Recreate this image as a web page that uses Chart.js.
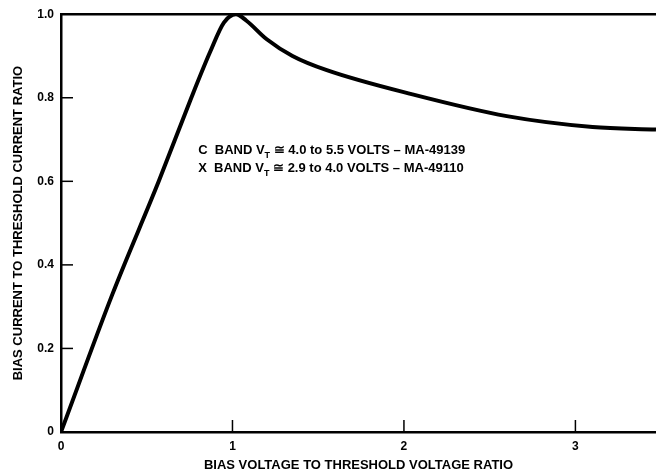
<!DOCTYPE html>
<html>
<head>
<meta charset="utf-8">
<script src="https://cdn.jsdelivr.net/npm/chart.js@4"></script>
<style>
  html, body { margin: 0; padding: 0; background: #fff; }
  #wrap { width: 656px; height: 473px; position: relative; }
</style>
</head>
<body>
<div id="wrap"><canvas id="myChart"></canvas></div>
<script>
// values
const biasVoltageRatio = [0, 0.3, 0.57, 0.76, 0.87, 0.95, 1.02, 1.08, 1.2, 1.35, 1.55, 2.05, 2.6, 3.1, 3.47];
const biasCurrentRatio = [0, 0.33, 0.6, 0.8, 0.91, 0.98, 1.0, 0.985, 0.94, 0.9, 0.866, 0.808, 0.756, 0.73, 0.724];
const xTicks = [0, 1, 2, 3];
const yTicks = [0, 0.2, 0.4, 0.6, 0.8, 1.0];
const noteLines = [
  { lead: 'C  BAND V', sub: 'T', tail: ' \u2245 4.0 to 5.5 VOLTS \u2013 MA-49139' },
  { lead: 'X  BAND V', sub: 'T', tail: ' \u2245 2.9 to 4.0 VOLTS \u2013 MA-49110' }
];

const font = '"Liberation Sans", Arial, sans-serif';

// ticks point into the plot, so draw them here with the scales
const innerTicks = {
  id: 'innerTicks',
  afterDraw(chart) {
    const { ctx, chartArea, scales } = chart;
    ctx.save();
    ctx.strokeStyle = '#000';
    ctx.lineWidth = 1.5;
    yTicks.forEach(v => {
      if (v === 0 || v === 1) return;
      const y = scales.y.getPixelForValue(v);
      ctx.beginPath();
      ctx.moveTo(chartArea.left, y);
      ctx.lineTo(chartArea.left + 12, y);
      ctx.stroke();
    });
    xTicks.forEach(v => {
      if (v === 0) return;
      const x = scales.x.getPixelForValue(v);
      ctx.beginPath();
      ctx.moveTo(x, chartArea.bottom);
      ctx.lineTo(x, chartArea.bottom - 12);
      ctx.stroke();
    });
    // top frame line at 1.0
    ctx.lineWidth = 2.5;
    const yTop = scales.y.getPixelForValue(1);
    ctx.beginPath();
    ctx.moveTo(chartArea.left, yTop);
    ctx.lineTo(chartArea.right, yTop);
    ctx.stroke();

    // note text
    ctx.fillStyle = '#000';
    ctx.textBaseline = 'alphabetic';
    const x0 = scales.x.getPixelForValue(0.8);
    noteLines.forEach((ln, i) => {
      const y = scales.y.getPixelForValue(0.665) + i * 18;
      ctx.font = 'bold 13px ' + font;
      let x = x0;
      ctx.fillText(ln.lead, x, y);
      x += ctx.measureText(ln.lead).width;
      ctx.font = 'bold 9px ' + font;
      ctx.fillText(ln.sub, x, y + 4);
      x += ctx.measureText(ln.sub).width;
      ctx.font = 'bold 13px ' + font;
      ctx.fillText(ln.tail, x, y);
    });
    ctx.restore();
  }
};

new Chart(document.getElementById('myChart'), {
  type: 'line',
  data: {
    datasets: [{
      data: biasVoltageRatio.map((x, i) => ({ x, y: biasCurrentRatio[i] })),
      borderColor: '#000',
      borderWidth: 4,
      pointRadius: 0,
      fill: false,
      cubicInterpolationMode: 'monotone'
    }]
  },
  options: {
    responsive: true,
    maintainAspectRatio: false,
    animation: false,
    layout: { padding: { top: 7, right: 0, left: 0, bottom: 0 } },
    plugins: { legend: { display: false }, tooltip: { enabled: false } },
    scales: {
      x: {
        type: 'linear',
        min: 0,
        max: 3.47,
        afterBuildTicks: s => { s.ticks = xTicks.map(v => ({ value: v })); },
        afterFit: s => { s.height = 41; },
        grid: { display: false, drawTicks: false },
        border: { display: true, color: '#000', width: 2.5 },
        ticks: {
          color: '#000',
          padding: 7,
          font: { family: font, size: 12, weight: 'bold' },
          callback: v => String(v)
        },
        title: {
          display: true,
          text: 'BIAS VOLTAGE TO THRESHOLD VOLTAGE RATIO',
          color: '#000',
          padding: { top: 1, bottom: 0 },
          font: { family: font, size: 13, weight: 'bold' }
        }
      },
      y: {
        type: 'linear',
        min: 0,
        max: 1,
        afterBuildTicks: s => { s.ticks = yTicks.map(v => ({ value: v })); },
        afterFit: s => { s.width = 61; },
        grid: { display: false, drawTicks: false },
        border: { display: true, color: '#000', width: 2.5 },
        ticks: {
          color: '#000',
          padding: 7,
          font: { family: font, size: 12, weight: 'bold' },
          callback: v => (v === 0 ? '0' : v.toFixed(1))
        },
        title: {
          display: true,
          text: 'BIAS CURRENT TO THRESHOLD CURRENT RATIO',
          color: '#000',
          padding: { top: 11, bottom: 0 },
          font: { family: font, size: 13, weight: 'bold' }
        }
      }
    }
  },
  plugins: [innerTicks]
});
</script>
</body>
</html>
